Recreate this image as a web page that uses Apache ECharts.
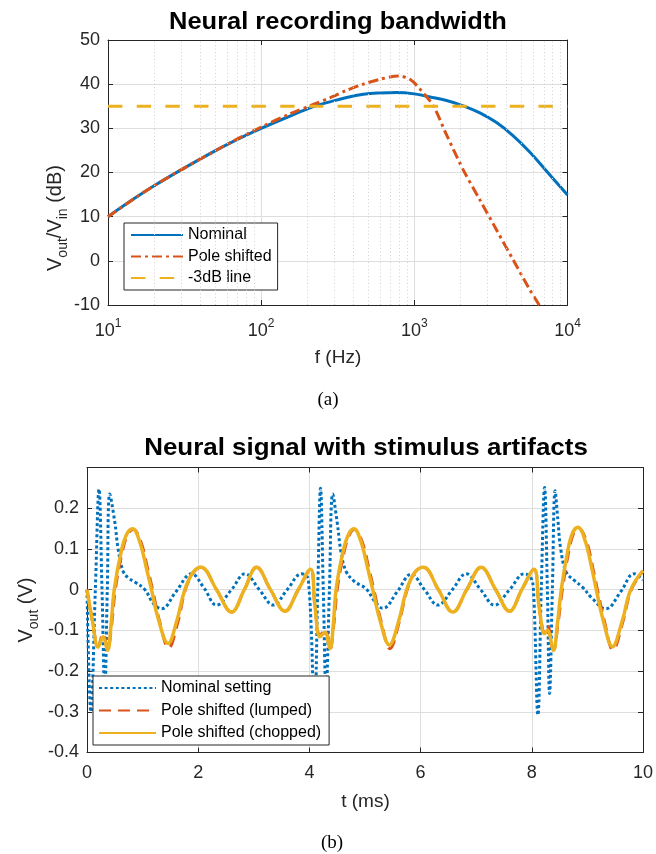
<!DOCTYPE html>
<html>
<head>
<meta charset="utf-8">
<script src="https://cdn.jsdelivr.net/npm/echarts@6/dist/echarts.min.js"></script>
<style>html,body{margin:0;padding:0;background:#fff}#c{width:656px;height:854px}</style>
</head>
<body>
<div id="c"></div>
<script>
// ---------- (a) Neural recording bandwidth ----------
const nominalFreq = [10, 15, 20, 30, 50, 70, 100, 150, 219, 281, 362, 465, 596, 766, 1000, 1265, 1624, 2086, 2679, 3442, 4422, 5684, 7310, 10000];
const nominalGain = [10.0, 14.2, 17.0, 20.6, 24.9, 27.5, 30.0, 32.6, 34.9, 36.0, 37.0, 37.7, 38.0, 38.1, 37.8, 37.1, 36.3, 35.1, 33.5, 31.3, 28.3, 24.6, 20.3, 14.9];
const shiftedFreq = [10, 15, 20, 30, 50, 70, 100, 150, 219, 281, 362, 465, 596, 785, 936, 1088, 1329, 1624, 2086, 2679, 3442, 4422, 5684, 6607, 7200];
const shiftedGain = [10.0, 14.2, 17.0, 20.6, 24.9, 27.6, 30.3, 33.1, 35.4, 36.9, 38.6, 40.0, 41.1, 41.85, 41.1, 38.9, 35.1, 28.5, 20.6, 13.8, 7.0, 0.2, -6.6, -10.3, -12.7];
const cutoffFreq = [10, 10000];
const cutoffGain = [35, 35];
const gainTicks = [-10, 0, 10, 20, 30, 40, 50];
const minorGridFreq = [20, 30, 40, 50, 60, 70, 80, 90, 200, 300, 400, 500, 600, 700, 800, 900, 2000, 3000, 4000, 5000, 6000, 7000, 8000, 9000];

// ---------- (b) Neural signal with stimulus artifacts ----------
const tNominal = [0, 0.07, 0.15, 0.216, 0.27, 0.32, 0.365, 0.41, 0.5, 0.56, 0.65, 0.75, 0.86, 1.04, 1.2, 1.34, 1.6, 1.88, 2.1, 2.33, 2.6, 2.84, 3.1, 3.35, 3.6, 3.86, 3.98, 4.09, 4.15, 4.2, 4.25, 4.3, 4.36, 4.42, 4.5, 4.57, 4.66, 4.81, 5.02, 5.18, 5.32, 5.58, 5.83, 6.07, 6.31, 6.57, 6.82, 7.08, 7.33, 7.6, 7.87, 7.98, 8.03, 8.11, 8.17, 8.23, 8.28, 8.32, 8.37, 8.42, 8.47, 8.52, 8.62, 8.77, 8.92, 9.07, 9.33, 9.6, 9.84, 10.0];
const vNominal = [0, -0.30, 0, 0.247, 0, -0.25, 0, 0.235, 0.166, 0.10, 0.045, 0.028, 0.019, 0.0, -0.035, -0.047, -0.005, 0.039, 0.005, -0.038, 0.0, 0.039, 0.0, -0.038, 0.0, 0.039, 0.025, -0.30, 0, 0.249, 0, -0.25, 0, 0.235, 0.165, 0.091, 0.045, 0.02, 0.002, -0.03, -0.046, -0.005, 0.038, 0.0, -0.038, 0.0, 0.039, 0.0, -0.038, 0.0, 0.039, 0.03, 0.0, -0.308, 0, 0.251, 0, -0.255, 0, 0.243, 0.17, 0.10, 0.043, 0.022, 0.005, -0.019, -0.047, -0.005, 0.039, 0.024];

const tLumped = [0, 0.1, 0.2, 0.29, 0.37, 0.44, 0.51, 0.63, 0.73, 0.83, 0.97, 1.09, 1.18, 1.30, 1.47, 1.63, 1.77, 1.92, 2.05, 2.33, 2.6, 2.83, 3.05, 3.3, 3.56, 3.8, 4.02, 4.1, 4.19, 4.28, 4.37, 4.44, 4.50, 4.62, 4.72, 4.81, 4.95, 5.07, 5.16, 5.29, 5.45, 5.61, 5.76, 5.9, 6.05, 6.32, 6.58, 6.83, 7.09, 7.35, 7.6, 7.82, 8.04, 8.13, 8.23, 8.28, 8.39, 8.47, 8.55, 8.66, 8.75, 8.84, 8.98, 9.10, 9.18, 9.31, 9.46, 9.63, 9.79, 10.0];
const vLumped = [0, -0.079, -0.140, -0.108, -0.147, -0.09, 0, 0.09, 0.135, 0.148, 0.117, 0.052, 0, -0.075, -0.143, -0.082, 0, 0.043, 0.055, 0, -0.055, 0, 0.055, 0, -0.053, 0, 0.05, -0.04, -0.114, -0.097, -0.146, -0.085, 0, 0.09, 0.135, 0.148, 0.117, 0.052, 0, -0.078, -0.145, -0.082, 0, 0.043, 0.055, 0, -0.055, 0, 0.055, 0, -0.053, 0, 0.05, -0.04, -0.105, -0.087, -0.149, -0.085, 0, 0.09, 0.138, 0.151, 0.12, 0.052, 0, -0.08, -0.148, -0.083, 0, 0.045];

const tChopped = [0, 0.1, 0.2, 0.29, 0.37, 0.43, 0.49, 0.61, 0.71, 0.82, 0.95, 1.07, 1.16, 1.28, 1.46, 1.61, 1.76, 1.91, 2.05, 2.33, 2.6, 2.83, 3.05, 3.3, 3.56, 3.8, 4.02, 4.1, 4.19, 4.28, 4.37, 4.43, 4.48, 4.6, 4.70, 4.80, 4.93, 5.05, 5.14, 5.27, 5.44, 5.6, 5.75, 5.9, 6.05, 6.32, 6.58, 6.83, 7.09, 7.35, 7.6, 7.82, 8.04, 8.13, 8.23, 8.28, 8.39, 8.46, 8.53, 8.64, 8.73, 8.83, 8.96, 9.08, 9.16, 9.29, 9.45, 9.62, 9.78, 10.0];
const vChopped = [0, -0.079, -0.141, -0.116, -0.149, -0.09, 0, 0.09, 0.135, 0.1495, 0.117, 0.052, 0, -0.071, -0.132, -0.079, 0, 0.043, 0.055, 0, -0.055, 0, 0.055, 0, -0.053, 0, 0.05, -0.04, -0.116, -0.105, -0.145, -0.085, 0, 0.09, 0.135, 0.1495, 0.117, 0.052, 0, -0.075, -0.136, -0.08, 0, 0.043, 0.055, 0, -0.055, 0, 0.055, 0, -0.053, 0, 0.05, -0.04, -0.108, -0.10, -0.149, -0.085, 0, 0.09, 0.138, 0.153, 0.12, 0.052, 0, -0.078, -0.14, -0.08, 0, 0.047];
const voltTicks = [-0.4, -0.3, -0.2, -0.1, 0, 0.1, 0.2];
const timeTicks = [0, 2, 4, 6, 8, 10];

const zip = (xs, ys) => xs.map((x, i) => [x, ys[i]]);

const FONT = '"Liberation Sans", Arial, Helvetica, sans-serif';
const AX = '#262626';
const GRIDC = '#dedede';

const baseAxisLine = { show: true, onZero: false, lineStyle: { color: AX, width: 1 } };
const baseTick = { show: true, inside: true, length: 5, lineStyle: { color: AX } };

const mirrorX = (gridIndex, type, min, max, interval) => ({
  gridIndex, type, min, max, interval, position: 'top', logBase: 10,
  axisLine: baseAxisLine, axisTick: baseTick,
  axisLabel: { show: false }, splitLine: { show: false }
});
const mirrorY = (gridIndex, min, max, interval) => ({
  gridIndex, type: 'value', min, max, interval, position: 'right',
  axisLine: baseAxisLine, axisTick: baseTick,
  axisLabel: { show: false }, splitLine: { show: false }
});

const legendBase = {
  orient: 'vertical', itemHeight: 14, itemTextGap: 5,
  backgroundColor: '#ffffff', borderColor: AX, borderWidth: 1, borderRadius: 0,
  textStyle: { fontSize: 16, fontFamily: FONT, color: '#000', lineHeight: 16 },
  itemStyle: { opacity: 0, color: 'rgba(0,0,0,0)', borderWidth: 0 },
  selectedMode: false
};

const chart = echarts.init(document.getElementById('c'), null, { renderer: 'canvas', width: 656, height: 854 });

chart.setOption({
  backgroundColor: '#ffffff',
  animation: false,
  textStyle: { fontFamily: FONT },
  grid: [
    { left: 108, top: 40, width: 459.5, height: 265, containLabel: false },
    { left: 87, top: 467.5, width: 556.5, height: 285, containLabel: false }
  ],
  xAxis: [
    {
      gridIndex: 0, type: 'log', logBase: 10, min: 10, max: 10000,
      axisLine: baseAxisLine, axisTick: baseTick,
      splitLine: { show: true, lineStyle: { color: GRIDC, width: 1 } },
      axisLabel: {
        margin: 13,
        formatter: v => '{b|10}{s|' + Math.round(Math.log10(v)) + '}',
        rich: {
          b: { fontSize: 18, fontFamily: FONT, color: AX, lineHeight: 26, verticalAlign: 'middle' },
          s: { fontSize: 12, fontFamily: FONT, color: AX, lineHeight: 12, verticalAlign: 'top' }
        }
      }
    },
    mirrorX(0, 'log', 10, 10000, undefined),
    {
      gridIndex: 1, type: 'value', min: timeTicks[0], max: timeTicks[timeTicks.length - 1], interval: 2,
      axisLine: baseAxisLine, axisTick: baseTick,
      splitLine: { show: true, lineStyle: { color: GRIDC, width: 1 } },
      axisLabel: { margin: 12, fontSize: 18, fontFamily: FONT, color: AX }
    },
    mirrorX(1, 'value', 0, 10, 2)
  ],
  yAxis: [
    {
      gridIndex: 0, type: 'value', min: gainTicks[0], max: gainTicks[gainTicks.length - 1], interval: 10,
      axisLine: baseAxisLine, axisTick: baseTick,
      splitLine: { show: true, lineStyle: { color: GRIDC, width: 1 } },
      axisLabel: { margin: 8, fontSize: 18, fontFamily: FONT, color: AX }
    },
    mirrorY(0, -10, 50, 10),
    {
      gridIndex: 1, type: 'value', min: voltTicks[0], max: 0.3, interval: 0.1,
      axisLine: baseAxisLine, axisTick: baseTick,
      splitLine: { show: true, lineStyle: { color: GRIDC, width: 1 } },
      axisLabel: {
        margin: 8, fontSize: 18, fontFamily: FONT, color: AX,
        formatter: v => (v > voltTicks[voltTicks.length - 1] + 0.05 ? '' : String(+v.toFixed(1)))
      }
    },
    mirrorY(1, -0.4, 0.3, 0.1)
  ],
  legend: [
    Object.assign({}, legendBase, {
      data: ['Nominal', 'Pole shifted', '-3dB line'],
      left: 124, top: 223, padding: [4, 6, 4, 6], itemGap: 5.5, itemWidth: 52
    }),
    Object.assign({}, legendBase, {
      data: ['Nominal setting', 'Pole shifted (lumped)', 'Pole shifted (chopped)'],
      left: 93, top: 676, padding: [4, 8, 4, 5], itemGap: 6.5, itemWidth: 57
    })
  ],
  series: [
    {
      type: 'line', xAxisIndex: 0, yAxisIndex: 0, data: [], z: 1, silent: true,
      markLine: {
        silent: true, symbol: ['none', 'none'], label: { show: false },
        lineStyle: { color: '#d2d2d2', width: 1, type: [1, 2.5] },
        emphasis: { disabled: true },
        data: minorGridFreq.map(f => ({ xAxis: f }))
      }
    },
    {
      name: 'Nominal', type: 'line', xAxisIndex: 0, yAxisIndex: 0,
      data: zip(nominalFreq, nominalGain), smooth: 0.4, symbol: 'none', clip: true,
      lineStyle: { color: '#0072BD', width: 3 }, itemStyle: { color: '#0072BD' }
    },
    {
      name: 'Pole shifted', type: 'line', xAxisIndex: 0, yAxisIndex: 0,
      data: zip(shiftedFreq, shiftedGain), smooth: 0.3, symbol: 'none', clip: true,
      lineStyle: { color: '#D95319', width: 3, type: [10, 4, 3, 4] }, itemStyle: { color: '#D95319' }
    },
    {
      name: '-3dB line', type: 'line', xAxisIndex: 0, yAxisIndex: 0,
      data: zip(cutoffFreq, cutoffGain), symbol: 'none', clip: true,
      lineStyle: { color: '#EDB120', width: 3, type: [14.4, 14.3] }, itemStyle: { color: '#EDB120' }
    },
    {
      name: 'Nominal setting', type: 'line', xAxisIndex: 2, yAxisIndex: 2,
      data: zip(tNominal, vNominal), smooth: 0.4, symbol: 'none', clip: true,
      lineStyle: { color: '#0072BD', width: 3, type: [3, 2.6], cap: 'butt' }, itemStyle: { color: '#0072BD' }
    },
    {
      name: 'Pole shifted (lumped)', type: 'line', xAxisIndex: 2, yAxisIndex: 2,
      data: zip(tLumped, vLumped), smooth: 0.4, symbol: 'none', clip: true,
      lineStyle: { color: '#D95319', width: 3, type: [12, 7] }, itemStyle: { color: '#D95319' }
    },
    {
      name: 'Pole shifted (chopped)', type: 'line', xAxisIndex: 2, yAxisIndex: 2,
      data: zip(tChopped, vChopped), smooth: 0.4, symbol: 'none', clip: true,
      lineStyle: { color: '#EDB120', width: 3.5 }, itemStyle: { color: '#EDB120' }
    }
  ],
  graphic: [
    { type: 'text', x: 338, y: 22, scaleX: 1.06, style: { text: 'Neural recording bandwidth', font: 'bold 24px ' + FONT, fill: '#000', textAlign: 'center', textVerticalAlign: 'middle' } },
    { type: 'text', x: 366, y: 448, scaleX: 1.08, style: { text: 'Neural signal with stimulus artifacts', font: 'bold 24px ' + FONT, fill: '#000', textAlign: 'center', textVerticalAlign: 'middle' } },
    { type: 'text', x: 338, y: 358, style: { text: 'f (Hz)', font: '19px ' + FONT, fill: AX, textAlign: 'center', textVerticalAlign: 'middle' } },
    { type: 'text', x: 365.5, y: 802, style: { text: 't (ms)', font: '19px ' + FONT, fill: AX, textAlign: 'center', textVerticalAlign: 'middle' } },
    {
      type: 'text', x: 55, y: 218, rotation: Math.PI / 2,
      style: {
        text: '{n|V}{s|out}{n|/V}{s|in}{n| (dB)}', textAlign: 'center', textVerticalAlign: 'middle',
        rich: {
          n: { fontSize: 20, fontFamily: FONT, fill: AX, lineHeight: 30, verticalAlign: 'middle' },
          s: { fontSize: 14, fontFamily: FONT, fill: AX, lineHeight: 14, verticalAlign: 'bottom' }
        }
      }
    },
    {
      type: 'text', x: 26, y: 610, rotation: Math.PI / 2,
      style: {
        text: '{n|V}{s|out}{n| (V)}', textAlign: 'center', textVerticalAlign: 'middle',
        rich: {
          n: { fontSize: 20, fontFamily: FONT, fill: AX, lineHeight: 30, verticalAlign: 'middle' },
          s: { fontSize: 14, fontFamily: FONT, fill: AX, lineHeight: 14, verticalAlign: 'bottom' }
        }
      }
    },
    { type: 'text', x: 328, y: 400, style: { text: '(a)', font: '19px "Liberation Serif", "Times New Roman", serif', fill: '#000', textAlign: 'center', textVerticalAlign: 'middle' } },
    { type: 'text', x: 332, y: 843, style: { text: '(b)', font: '19px "Liberation Serif", "Times New Roman", serif', fill: '#000', textAlign: 'center', textVerticalAlign: 'middle' } }
  ]
});
</script>
</body>
</html>
